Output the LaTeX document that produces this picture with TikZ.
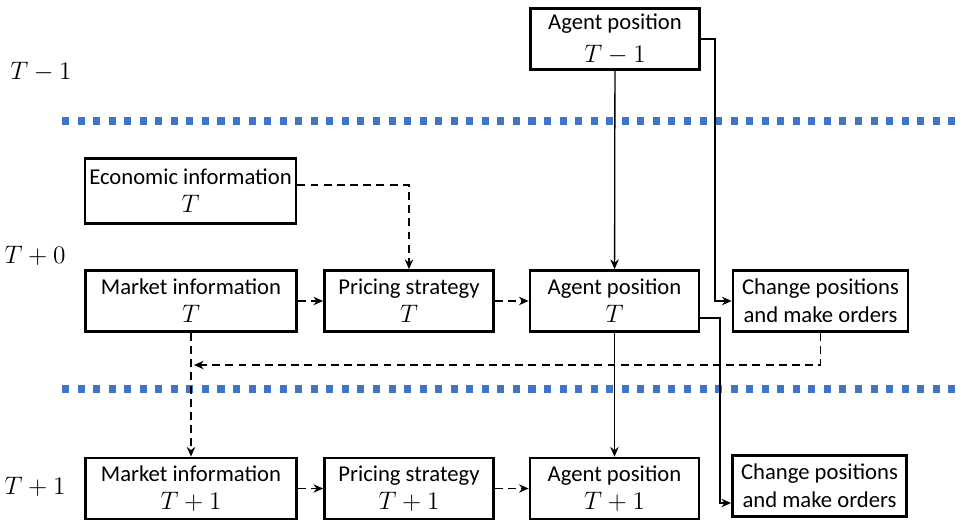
\documentclass[tikz,border=0pt]{standalone}
\usepackage{fontspec}
\setmainfont{Carlito}
\definecolor{dotblue}{RGB}{68,114,196}
\usetikzlibrary{arrows.meta,positioning,calc}
\newcommand{\tstep}[1]{{\fontsize{14}{16}\selectfont$#1$}}

\begin{document}
\begin{tikzpicture}[x=0.02cm, y=-0.02cm,
    stagebox/.style={draw, line width=1.6pt, align=center, inner sep=0pt,
      minimum height=1.22cm, font=\fontsize{12.9}{16}\selectfont},
    widebox/.style={stagebox, minimum width=4.22cm},
    midbox/.style={stagebox, minimum width=3.38cm},
    orderbox/.style={stagebox, minimum width=3.5cm},
    solidlink/.style={line width=0.75pt, -{Stealth[length=5.5pt,width=4.8pt]}},
    dashlink/.style={solidlink, dash pattern=on 4.5pt off 3pt},
    divider/.style={dotblue, line width=4pt, dash pattern=on 4pt off 4.85pt},
    steplabel/.style={font=\fontsize{13.5}{16}\selectfont}]
  \useasboundingbox (0,0) rectangle (962,524);

  % time steps
  \node[steplabel] (lblprev) at (41,72) {$T-1$};
  \node[steplabel] (lblnow) at (35,256) {$T+0$};
  \node[steplabel] (lblnext) at (35,487) {$T+1$};

  \draw[divider] (62,121) -- (962,121);
  \draw[divider] (62,389) -- (962,389);

  % boxes
  \node[midbox] (apprev) at (615,39) {Agent position\\[3pt]\tstep{T-1}};
  \node[widebox, minimum height=1.3cm] (econ) at (190.5,191) {Economic information\\\tstep{T}};

  \node[widebox] (mktT) at (191,301) {Market information\\\tstep{T}};
  \node[midbox] (priT) at (409,301) {Pricing strategy\\\tstep{T}};
  \node[midbox] (apT) at (614.5,301) {Agent position\\\tstep{T}};
  \node[orderbox] (chgT) at (820.5,301) {Change positions\\and make orders};

  \node[widebox] (mkt1) at (191,488.5) {Market information\\\tstep{T+1}};
  \node[midbox] (pri1) at (409,488.5) {Pricing strategy\\\tstep{T+1}};
  \node[midbox] (ap1) at (614.5,488.5) {Agent position\\\tstep{T+1}};
  \node[orderbox, minimum width=3.48cm] (chg1) at (819.5,486) {Change positions\\and make orders};

  % links
  \coordinate (turnA) at (715,39);
  \coordinate (turnB) at (720,318);
  \coordinate (backend) at (194,365);

  \draw[solidlink] (apprev) -- (apT);
  \draw[solidlink] (apprev.east) -- (turnA) |- (chgT.west);
  \draw[solidlink] (apT.east |- turnB) -- (turnB) |- ($(chg1.west)+(0,17)$);
  \draw[solidlink] (apT) -- (ap1);

  \draw[dashlink] ($(econ.east)+(0,-6)$) -| (priT.north);
  \draw[dashlink] (mktT) -- (priT);
  \draw[dashlink] (priT) -- (apT);
  \draw[dashlink] (chgT.south) |- (backend);
  \draw[dashlink] (mktT) -- (mkt1);
  \draw[dashlink] (mkt1) -- (pri1);
  \draw[dashlink] (pri1) -- (ap1);
\end{tikzpicture}
\end{document}
